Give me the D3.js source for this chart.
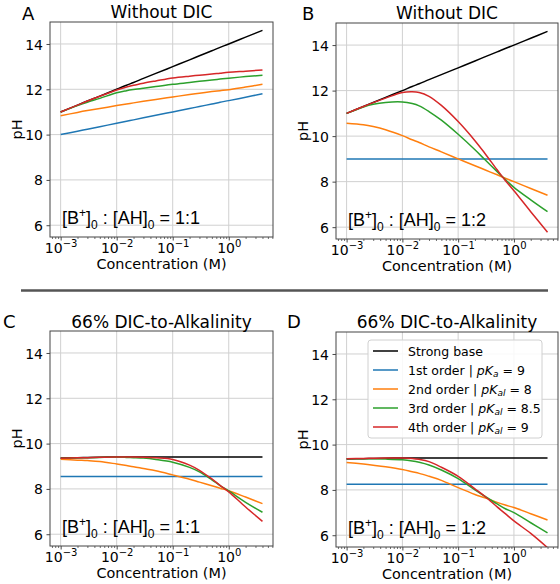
<!DOCTYPE html>
<html>
<head>
<meta charset="utf-8">
<script src="https://cdn.jsdelivr.net/npm/d3@7"></script>
<style>
  html, body { margin: 0; padding: 0; background: #fff; }
  svg { display: block; }
  text { font-family: "DejaVu Sans", sans-serif; fill: #000; }
</style>
</head>
<body>
<svg id="chart" width="560" height="584"></svg>
<script>
// ---------------- DATA ----------------
const conc = [0.001, 0.002, 0.003, 0.005, 0.01, 0.015, 0.02, 0.03, 0.05, 0.1, 0.2, 0.3, 0.5, 0.7, 1, 2, 4];

const seriesNames = ["Strong base", "1st order", "2nd order", "3rd order", "4th order"];
const seriesColors = ["#000000", "#1f77b4", "#ff7f0e", "#2ca02c", "#d62728"];
const legendPK = [null, {sub: "a", val: "9"}, {sub: "al", val: "8"}, {sub: "al", val: "8.5"}, {sub: "al", val: "9"}];

const xTickValues = [1e-3, 1e-2, 1e-1, 1];
const xTickExponents = ["\u22123", "\u22122", "\u22121", "0"];
const yTickValues = [6, 8, 10, 12, 14];

const panelLetters = ["A", "B", "C", "D"];
const panelTitles = ["Without DIC", "Without DIC", "66% DIC-to-Alkalinity", "66% DIC-to-Alkalinity"];
const panelRatios = ["1:1", "1:2", "1:1", "1:2"];

// Panel A: without DIC, 1:1
const A_strong = [11, 11.3, 11.48, 11.7, 12, 12.18, 12.3, 12.48, 12.7, 13, 13.3, 13.48, 13.7, 13.85, 14, 14.3, 14.6];
const A_first  = [10, 10.15, 10.24, 10.35, 10.5, 10.59, 10.65, 10.74, 10.85, 11, 11.15, 11.24, 11.35, 11.43, 11.5, 11.65, 11.8];
const A_second = [10.83, 10.98, 11.06, 11.15, 11.28, 11.35, 11.4, 11.47, 11.55, 11.66, 11.77, 11.83, 11.9, 11.94, 11.98, 12.1, 12.22];
const A_third  = [11.0, 11.28, 11.43, 11.6, 11.85, 11.94, 11.99, 12.05, 12.12, 12.22, 12.3, 12.35, 12.41, 12.45, 12.49, 12.56, 12.62];
const A_fourth = [11.0, 11.3, 11.48, 11.69, 11.97, 12.1, 12.18, 12.27, 12.37, 12.5, 12.58, 12.62, 12.67, 12.71, 12.75, 12.8, 12.85];

// Panel B: without DIC, 1:2
const B_strong = [11, 11.3, 11.48, 11.7, 12, 12.18, 12.3, 12.48, 12.7, 13, 13.3, 13.48, 13.7, 13.85, 14, 14.3, 14.6];
const B_first  = [9, 9, 9, 9, 9, 9, 9, 9, 9, 9, 9, 9, 9, 9, 9, 9, 9];
const B_second = [10.57, 10.5, 10.42, 10.28, 10.02, 9.84, 9.72, 9.53, 9.31, 9.0, 8.7, 8.52, 8.3, 8.15, 8.0, 7.7, 7.4];
const B_third  = [11.0, 11.28, 11.4, 11.48, 11.5, 11.43, 11.33, 11.08, 10.7, 10.08, 9.4, 8.97, 8.44, 8.09, 7.75, 7.2, 6.68];
const B_fourth = [11.0, 11.3, 11.47, 11.67, 11.92, 11.95, 11.92, 11.75, 11.35, 10.64, 9.8, 9.25, 8.52, 8.05, 7.6, 6.68, 5.78];

// Panel C: 66% DIC-to-Alkalinity, 1:1
const C_strong = [9.36, 9.38, 9.39, 9.4, 9.41, 9.41, 9.41, 9.41, 9.41, 9.41, 9.41, 9.41, 9.41, 9.41, 9.41, 9.41, 9.41];
const C_first  = [8.55, 8.55, 8.55, 8.55, 8.55, 8.55, 8.55, 8.55, 8.55, 8.55, 8.55, 8.55, 8.55, 8.55, 8.55, 8.55, 8.55];
const C_second = [9.31, 9.27, 9.25, 9.21, 9.1, 9.03, 8.98, 8.9, 8.8, 8.62, 8.43, 8.3, 8.14, 8.03, 7.92, 7.64, 7.35];
const C_third  = [9.35, 9.37, 9.38, 9.39, 9.4, 9.39, 9.38, 9.36, 9.3, 9.18, 8.95, 8.75, 8.4, 8.15, 7.91, 7.41, 6.97];
const C_fourth = [9.35, 9.37, 9.38, 9.4, 9.41, 9.41, 9.41, 9.4, 9.37, 9.3, 9.05, 8.82, 8.44, 8.16, 7.87, 7.2, 6.57];

// Panel D: 66% DIC-to-Alkalinity, 1:2
const D_strong = [9.36, 9.38, 9.39, 9.4, 9.41, 9.41, 9.41, 9.41, 9.41, 9.41, 9.41, 9.41, 9.41, 9.41, 9.41, 9.41, 9.41];
const D_first  = [8.25, 8.25, 8.25, 8.25, 8.25, 8.25, 8.25, 8.25, 8.25, 8.25, 8.25, 8.25, 8.25, 8.25, 8.25, 8.25, 8.25];
const D_second = [9.21, 9.14, 9.09, 9.02, 8.9, 8.8, 8.73, 8.6, 8.42, 8.1, 7.8, 7.65, 7.45, 7.33, 7.22, 6.95, 6.67];
const D_third  = [9.37, 9.37, 9.37, 9.36, 9.33, 9.28, 9.22, 9.1, 8.88, 8.5, 8.0, 7.72, 7.38, 7.17, 7.0, 6.55, 6.1];
const D_fourth = [9.37, 9.39, 9.4, 9.41, 9.41, 9.39, 9.35, 9.25, 9.0, 8.6, 8.05, 7.72, 7.25, 6.95, 6.63, 6.08, 5.45];

const panelSeries = [
  [A_strong, A_first, A_second, A_third, A_fourth],
  [B_strong, B_first, B_second, B_third, B_fourth],
  [C_strong, C_first, C_second, C_third, C_fourth],
  [D_strong, D_first, D_second, D_third, D_fourth]
];

// ---------------- LAYOUT ----------------
const xDomain = [Math.pow(10, -3.19), Math.pow(10, 0.79)];
const yDomain = [5.48, 14.97];
const layouts = [
  {x0: 50,  x1: 273, y0: 22,  y1: 237, lx: 22,  ly: 20,  ty: 17.5},
  {x0: 336, x1: 558, y0: 23,  y1: 239, lx: 302, ly: 20,  ty: 18.5},
  {x0: 50,  x1: 273, y0: 331, y1: 546, lx: 3,   ly: 328, ty: 327.5},
  {x0: 336, x1: 558, y0: 332, y1: 547, lx: 287, ly: 328, ty: 327.5}
];

const svg = d3.select("#chart");
const defs = svg.append("defs");

// separator line
svg.append("line")
  .attr("x1", 21).attr("x2", 548).attr("y1", 290.5).attr("y2", 290.5)
  .attr("stroke", "#555").attr("stroke-width", 2.6);

// minor tick values
const minorTicks = [];
for (let e = -4; e <= 1; e++) {
  for (let m = 2; m <= 9; m++) {
    const v = m * Math.pow(10, e);
    if (v > xDomain[0] && v < xDomain[1]) minorTicks.push(v);
  }
}

panelSeries.forEach((series, pi) => {
  const L = layouts[pi];
  const x = d3.scaleLog().domain(xDomain).range([L.x0, L.x1]);
  const y = d3.scaleLinear().domain(yDomain).range([L.y1, L.y0]);
  const g = svg.append("g");

  // grid
  g.append("g").selectAll("line.gx").data(xTickValues).join("line")
    .attr("x1", d => x(d)).attr("x2", d => x(d))
    .attr("y1", L.y0).attr("y2", L.y1)
    .attr("stroke", "#d0d0d0").attr("stroke-width", 1);
  g.append("g").selectAll("line.gy").data(yTickValues).join("line")
    .attr("x1", L.x0).attr("x2", L.x1)
    .attr("y1", d => y(d)).attr("y2", d => y(d))
    .attr("stroke", "#d0d0d0").attr("stroke-width", 1);

  // clip
  const cid = "clip" + pi;
  defs.append("clipPath").attr("id", cid).append("rect")
    .attr("x", L.x0).attr("y", L.y0).attr("width", L.x1 - L.x0).attr("height", L.y1 - L.y0);

  const line = d3.line()
    .x((d, i) => x(conc[i]))
    .y(d => y(d))
    .curve(d3.curveCatmullRom.alpha(0.5));

  const lg = g.append("g").attr("clip-path", `url(#${cid})`);
  series.forEach((vals, si) => {
    lg.append("path")
      .attr("d", line(vals))
      .attr("fill", "none")
      .attr("stroke", seriesColors[si])
      .attr("stroke-width", 1.5)
      .attr("stroke-linejoin", "round")
      .attr("stroke-linecap", "butt");
  });

  // axes
  const xAxis = d3.axisBottom(x).tickValues(xTickValues).tickSize(3.5).tickFormat("");
  const xg = g.append("g").attr("transform", `translate(0,${L.y1})`).call(xAxis);
  xg.select(".domain").remove();
  xg.selectAll(".tick line").attr("stroke", "#333").attr("stroke-width", 0.9);
  xg.selectAll(".tick").each(function(d, i) {
    const t = d3.select(this).append("text")
      .attr("y", 15.5).attr("text-anchor", "middle")
      .attr("font-size", "14px").attr("fill", "#000");
    t.append("tspan").text("10");
    t.append("tspan").attr("font-size", "10px").attr("dy", -5.5).text(xTickExponents[i]);
  });
  const xm = d3.axisBottom(x).tickValues(minorTicks).tickSize(2).tickFormat("");
  const xmg = g.append("g").attr("transform", `translate(0,${L.y1})`).call(xm);
  xmg.select(".domain").remove();
  xmg.selectAll(".tick line").attr("stroke", "#333").attr("stroke-width", 0.7);

  const yAxis = d3.axisLeft(y).tickValues(yTickValues).tickSize(3.5).tickPadding(3.5).tickFormat(d3.format("d"));
  const yg = g.append("g").attr("transform", `translate(${L.x0},0)`).call(yAxis);
  yg.select(".domain").remove();
  yg.selectAll(".tick line").attr("stroke", "#333").attr("stroke-width", 0.9);
  yg.selectAll(".tick text").attr("font-size", "14px").attr("font-family", "DejaVu Sans").attr("fill", "#000").attr("dy", "0.36em");

  // spines
  g.append("rect")
    .attr("x", L.x0).attr("y", L.y0).attr("width", L.x1 - L.x0).attr("height", L.y1 - L.y0)
    .attr("fill", "none").attr("stroke", "#444").attr("stroke-width", 1);

  // labels
  const cx = (L.x0 + L.x1) / 2, cy = (L.y0 + L.y1) / 2;
  g.append("text").attr("x", cx).attr("y", L.y1 + 32).attr("text-anchor", "middle")
    .attr("font-size", "14.4px").text("Concentration (M)");
  g.append("text").attr("transform", `translate(${L.x0 - 28},${cy}) rotate(-90)`)
    .attr("text-anchor", "middle").attr("font-size", "14.4px").text("pH");
  g.append("text").attr("x", cx).attr("y", L.ty).attr("text-anchor", "middle")
    .attr("font-size", "17px").text(panelTitles[pi]);
  g.append("text").attr("x", L.lx).attr("y", L.ly)
    .attr("font-size", "18px").text(panelLetters[pi]);

  // ratio annotation
  const at = g.append("text").attr("x", L.x0 + 12).attr("y", L.y1 - 13)
    .style("font-family", "'Liberation Sans', Arial, sans-serif").attr("font-size", "18px");
  at.append("tspan").text("[B");
  at.append("tspan").attr("font-size", "12px").attr("dy", -7).text("+");
  at.append("tspan").attr("dy", 7).text("]");
  at.append("tspan").attr("font-size", "12px").attr("dy", 5).text("0");
  at.append("tspan").attr("dy", -5).text("\u00a0:\u00a0[AH]");
  at.append("tspan").attr("font-size", "12px").attr("dy", 5).text("0");
  at.append("tspan").attr("dy", -5).text("\u00a0=\u00a01:" + panelRatios[pi].split(":")[1]);

  // legend (panel D)
  if (pi === 3) {
    const lgd = g.append("g");
    lgd.append("rect").attr("x", 368).attr("y", 340).attr("width", 174).attr("height", 98)
      .attr("rx", 3).attr("fill", "#fff").attr("fill-opacity", 0.85)
      .attr("stroke", "#d0d0d0").attr("stroke-width", 1);
    seriesNames.forEach((nm, si) => {
      const ry = 351 + si * 19;
      lgd.append("line").attr("x1", 373).attr("x2", 398).attr("y1", ry).attr("y2", ry)
        .attr("stroke", seriesColors[si]).attr("stroke-width", 1.5);
      const t = lgd.append("text").attr("x", 408).attr("y", ry + 4.5).attr("font-size", "12.5px");
      if (!legendPK[si]) {
        t.text(nm);
      } else {
        t.append("tspan").text(nm + " | ");
        t.append("tspan").attr("font-style", "italic").text("pK");
        t.append("tspan").attr("font-style", "italic").attr("font-size", "9px").attr("dy", 2.5).text(legendPK[si].sub);
        t.append("tspan").attr("dy", -2.5).text(" = " + legendPK[si].val);
      }
    });
  }
});
</script>
</body>
</html>
